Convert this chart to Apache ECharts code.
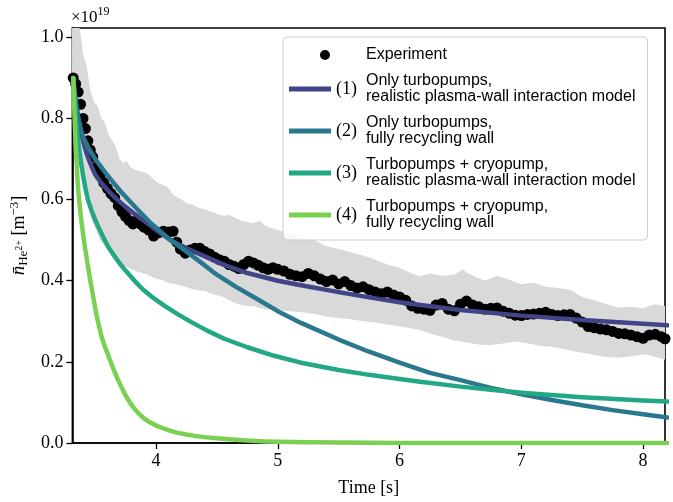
<!DOCTYPE html>
<html><head><meta charset="utf-8">
<script src="https://cdn.jsdelivr.net/npm/echarts@6/dist/echarts.min.js"></script>
<style>html,body{margin:0;padding:0;background:#fff}#c{width:673px;height:502px}</style>
</head><body><div id="c"></div>
<script>
// ---- tick labels ----
const xTicks = [4, 5, 6, 7, 8];
const yTicks = [0, 0.2, 0.4, 0.6, 0.8, 1.0];

// ---- experiment (units of 1e19 m^-3) ----
const expT = [3.32,3.34,3.36,3.38,3.40,3.42,3.44,3.46,3.48,3.51,3.54,3.57,3.60,3.63,3.66,3.69,3.72,3.75,3.78,3.81,3.84,3.87,3.90,3.94,3.98,4.02,4.06,4.10,4.14,4.17,4.20,4.24,4.28,4.32,4.36,4.40,4.44,4.48,4.52,4.56,4.60,4.64,4.68,4.72,4.76,4.80,4.84,4.88,4.92,4.96,5.00,5.05,5.10,5.15,5.20,5.25,5.30,5.35,5.40,5.45,5.50,5.55,5.60,5.65,5.70,5.75,5.80,5.85,5.90,5.95,6.00,6.05,6.10,6.15,6.20,6.25,6.30,6.35,6.40,6.45,6.50,6.55,6.60,6.65,6.70,6.75,6.80,6.85,6.90,6.95,7.00,7.05,7.10,7.15,7.20,7.25,7.30,7.35,7.40,7.45,7.50,7.55,7.60,7.65,7.70,7.75,7.80,7.85,7.90,7.95,8.00,8.05,8.10,8.15,8.18];
const expV = [0.900,0.885,0.865,0.835,0.800,0.775,0.745,0.722,0.705,0.680,0.660,0.642,0.628,0.615,0.605,0.585,0.570,0.558,0.548,0.540,0.548,0.540,0.532,0.525,0.510,0.518,0.522,0.520,0.522,0.495,0.478,0.468,0.476,0.480,0.480,0.472,0.466,0.458,0.452,0.448,0.440,0.436,0.430,0.440,0.448,0.444,0.438,0.432,0.428,0.432,0.428,0.424,0.416,0.412,0.410,0.418,0.412,0.404,0.398,0.402,0.392,0.398,0.388,0.382,0.385,0.378,0.372,0.368,0.372,0.365,0.360,0.352,0.338,0.332,0.330,0.327,0.340,0.344,0.330,0.326,0.342,0.350,0.340,0.336,0.330,0.332,0.333,0.325,0.320,0.315,0.314,0.317,0.318,0.320,0.322,0.317,0.314,0.316,0.317,0.308,0.298,0.287,0.284,0.281,0.279,0.275,0.270,0.269,0.266,0.262,0.258,0.266,0.268,0.262,0.257];

// ---- uncertainty band ----
const bandUpT = [3.31,3.36,3.38,3.40,3.43,3.46,3.49,3.52,3.55,3.58,3.61,3.64,3.67,3.70,3.73,3.76,3.79,3.82,3.86,3.90,3.94,3.98,4.02,4.06,4.10,4.14,4.18,4.22,4.26,4.30,4.35,4.40,4.45,4.50,4.55,4.60,4.65,4.70,4.75,4.80,4.85,4.90,4.95,5.00,5.10,5.20,5.30,5.40,5.50,5.60,5.70,5.80,5.90,6.00,6.10,6.17,6.25,6.35,6.45,6.52,6.55,6.62,6.70,6.74,6.80,6.88,6.95,7.00,7.10,7.20,7.30,7.40,7.50,7.60,7.70,7.80,7.90,8.00,8.05,8.10,8.18];
const bandUpV = [1.10,1.04,1.01,0.96,0.93,0.87,0.84,0.83,0.80,0.79,0.76,0.745,0.73,0.70,0.69,0.695,0.68,0.675,0.67,0.668,0.662,0.650,0.640,0.636,0.630,0.612,0.605,0.598,0.590,0.588,0.580,0.576,0.570,0.565,0.560,0.562,0.555,0.548,0.545,0.542,0.548,0.535,0.530,0.525,0.515,0.505,0.500,0.485,0.478,0.470,0.462,0.452,0.440,0.432,0.418,0.411,0.418,0.412,0.415,0.428,0.420,0.410,0.400,0.405,0.412,0.405,0.396,0.392,0.395,0.385,0.382,0.378,0.360,0.352,0.342,0.334,0.336,0.332,0.338,0.342,0.338];
const bandLoT = [3.31,3.35,3.38,3.41,3.44,3.47,3.50,3.54,3.58,3.62,3.66,3.70,3.75,3.80,3.85,3.90,3.95,4.00,4.05,4.10,4.15,4.20,4.25,4.30,4.35,4.40,4.45,4.50,4.55,4.60,4.65,4.70,4.75,4.80,4.85,4.90,5.00,5.10,5.20,5.30,5.40,5.50,5.60,5.70,5.80,5.90,6.00,6.10,6.17,6.25,6.35,6.44,6.55,6.65,6.74,6.85,6.95,7.05,7.15,7.25,7.35,7.45,7.53,7.62,7.70,7.80,7.90,8.00,8.05,8.12,8.18];
const bandLoV = [0.86,0.75,0.68,0.63,0.59,0.55,0.53,0.50,0.485,0.47,0.455,0.445,0.435,0.428,0.422,0.418,0.412,0.405,0.402,0.395,0.392,0.388,0.384,0.379,0.376,0.375,0.368,0.365,0.360,0.352,0.345,0.340,0.337,0.338,0.333,0.330,0.328,0.325,0.322,0.318,0.312,0.308,0.305,0.300,0.297,0.292,0.288,0.282,0.278,0.270,0.262,0.253,0.248,0.243,0.241,0.245,0.250,0.246,0.240,0.237,0.232,0.225,0.221,0.216,0.212,0.210,0.214,0.218,0.217,0.210,0.205];

// ---- model curves ----
const c1T = [3.32,3.325,3.33,3.337,3.345,3.36,3.38,3.40,3.42,3.44,3.47,3.50,3.55,3.60,3.67,3.75,3.84,3.93,4.02,4.12,4.25,4.40,4.57,4.75,5.00,5.19,5.50,5.75,6.00,6.17,6.50,7.00,7.50,8.00,8.20];
const c1V = [0.90,0.88,0.86,0.845,0.83,0.80,0.77,0.745,0.724,0.705,0.682,0.662,0.641,0.624,0.603,0.582,0.561,0.541,0.521,0.50,0.480,0.46,0.438,0.419,0.40,0.389,0.372,0.359,0.347,0.340,0.328,0.314,0.303,0.294,0.290];
const c2T = [3.32,3.33,3.345,3.36,3.38,3.40,3.45,3.50,3.55,3.60,3.655,3.71,3.78,3.85,3.96,4.10,4.23,4.36,4.48,4.65,4.83,5.00,5.19,5.50,5.75,6.00,6.17,6.25,6.50,6.75,7.00,7.25,7.50,7.75,8.00,8.20];
const c2V = [0.90,0.87,0.835,0.805,0.775,0.755,0.725,0.70,0.68,0.66,0.64,0.62,0.597,0.575,0.541,0.505,0.476,0.447,0.419,0.386,0.355,0.325,0.296,0.255,0.225,0.198,0.181,0.173,0.155,0.136,0.120,0.106,0.093,0.081,0.071,0.063];
const c3T = [3.32,3.325,3.33,3.337,3.345,3.357,3.37,3.385,3.40,3.42,3.44,3.47,3.50,3.535,3.57,3.61,3.66,3.70,3.75,3.82,3.89,3.98,4.07,4.18,4.29,4.42,4.56,4.75,4.97,5.19,5.50,5.75,6.00,6.17,6.50,6.75,7.00,7.50,8.00,8.20];
const c3V = [0.90,0.875,0.85,0.82,0.79,0.755,0.72,0.69,0.66,0.628,0.60,0.573,0.55,0.527,0.505,0.482,0.46,0.443,0.425,0.401,0.379,0.357,0.338,0.317,0.298,0.277,0.257,0.236,0.215,0.198,0.180,0.168,0.158,0.151,0.139,0.131,0.124,0.113,0.105,0.102];
const c4T = [3.32,3.325,3.33,3.335,3.34,3.348,3.355,3.362,3.37,3.38,3.39,3.405,3.42,3.44,3.46,3.48,3.50,3.52,3.55,3.58,3.60,3.63,3.66,3.70,3.75,3.80,3.85,3.90,3.95,4.00,4.06,4.12,4.18,4.25,4.32,4.40,4.50,4.60,4.75,4.90,5.00,5.25,5.50,6.00,7.00,8.20];
const c4V = [0.90,0.855,0.81,0.77,0.73,0.69,0.65,0.62,0.595,0.565,0.54,0.505,0.475,0.437,0.40,0.367,0.333,0.303,0.265,0.237,0.222,0.198,0.175,0.147,0.117,0.093,0.075,0.061,0.051,0.043,0.036,0.030,0.025,0.021,0.0175,0.0145,0.0115,0.009,0.006,0.004,0.003,0.0018,0.001,0.0003,0,0];

// ---- legend texts / colors ----
const curveNum = ['(1)', '(2)', '(3)', '(4)'];
const curveL1 = ['Only turbopumps,', 'Only turbopumps,', 'Turbopumps + cryopump,', 'Turbopumps + cryopump,'];
const curveL2 = ['realistic plasma-wall interaction model', 'fully recycling wall', 'realistic plasma-wall interaction model', 'fully recycling wall'];
const curveColors = ['#414487', '#2a788e', '#22a884', '#7ad151'];
const curveT = [c1T, c2T, c3T, c4T];
const curveV = [c1V, c2V, c3V, c4V];

const SERIF = 'Liberation Serif';
const SANS = 'Liberation Sans';
const zip = (a, b) => a.map((t, i) => [t, b[i]]);
const curveNames = curveNum.map((n, i) => n + ' ' + curveL1[i] + ' ' + curveL2[i]);

const chart = echarts.init(document.getElementById('c'), null, {renderer: 'canvas'});

const series = [];
series.push({
  type: 'custom', name: 'band', silent: true, clip: true, z: 1,
  data: [[bandUpT[0], bandUpV[0]]],
  renderItem: function (params, api) {
    const pts = [];
    for (let i = 0; i < bandUpT.length; i++) pts.push(api.coord([bandUpT[i], bandUpV[i]]));
    for (let i = bandLoT.length - 1; i >= 0; i--) pts.push(api.coord([bandLoT[i], bandLoV[i]]));
    return {type: 'polygon', shape: {points: pts}, style: {fill: '#d9d9d9'}};
  }
});
series.push({
  type: 'scatter', name: 'Experiment', z: 2,
  data: zip(expT, expV), symbol: 'circle', symbolSize: 11,
  itemStyle: {color: '#000', opacity: 1}
});
curveNames.forEach((nm, i) => {
  series.push({
    type: 'line', name: nm, z: 3 + i,
    data: zip(curveT[i], curveV[i]),
    showSymbol: false, symbol: 'none', smooth: false,
    lineStyle: {color: curveColors[i], width: 4.5, cap: 'round', join: 'round'},
    itemStyle: {color: curveColors[i]}
  });
});

const legendData = [{name: 'Experiment', icon: 'path://M0,5L0.01,5L0.01,5.01ZM30,5A5,5,0,1,1,40,5A5,5,0,1,1,30,5Z', itemStyle: {color: '#000', opacity: 1}}]
  .concat(curveNames.map((nm, i) => ({name: nm, icon: 'path://M0,0H42V5H0Z', itemStyle: {color: curveColors[i]}})));

const option = {
  animation: false,
  backgroundColor: '#fff',
  grid: {left: 71, right: 8, top: 28, bottom: 53, show: true, borderColor: '#000', borderWidth: 1.6, backgroundColor: 'transparent'},
  xAxis: {
    type: 'value', min: 3.313, max: 8.18,
    name: 'Time [s]', nameLocation: 'middle', nameGap: 36,
    nameTextStyle: {fontFamily: SERIF, fontSize: 18, color: '#000'},
    axisLine: {show: true, onZero: false, lineStyle: {color: '#000', width: 1.6}},
    axisTick: {show: true, customValues: xTicks, length: 6, lineStyle: {color: '#000', width: 1.3}},
    axisLabel: {customValues: xTicks, fontFamily: SERIF, fontSize: 18, color: '#000', margin: 9, formatter: v => String(v)},
    splitLine: {show: false}
  },
  yAxis: {
    type: 'value', min: 0, max: 1.023,
    name: '{n|n\u0304}{sub|He}{sup2|2+}{t| [m}{sup|\u22123}{t|]}',
    nameLocation: 'middle', nameGap: 42,
    nameTextStyle: {color: '#000', rich: {
      n: {fontFamily: SERIF, fontStyle: 'italic', fontSize: 19, lineHeight: 22},
      sub: {fontFamily: SERIF, fontSize: 13, lineHeight: 13, verticalAlign: 'bottom'},
      sup2: {fontFamily: SERIF, fontSize: 10, lineHeight: 10, verticalAlign: 'middle'},
      t: {fontFamily: SERIF, fontSize: 18, lineHeight: 22},
      sup: {fontFamily: SERIF, fontSize: 13, lineHeight: 13, verticalAlign: 'top'}
    }},
    axisLine: {show: true, onZero: false, lineStyle: {color: '#000', width: 1.6}},
    axisTick: {show: true, customValues: yTicks, length: 6, lineStyle: {color: '#000', width: 1.3}},
    axisLabel: {customValues: yTicks, fontFamily: SERIF, fontSize: 18, color: '#000', margin: 9, formatter: v => v.toFixed(1)},
    splitLine: {show: false}
  },
  legend: {
    left: 283, top: 37, orient: 'vertical',
    padding: [10, 12, 9, 6], itemGap: 10, itemWidth: 42, itemHeight: 10,
    backgroundColor: 'rgba(255,255,255,0.8)', borderColor: '#cccccc', borderWidth: 1, borderRadius: 4,
    selectedMode: false, z: 10,
    data: legendData,
    formatter: function (name) {
      if (name === 'Experiment') return '{pe| }{e|Experiment}';
      const i = curveNames.indexOf(name);
      return '{n|' + curveNum[i] + '}{a|' + curveL1[i] + '}\n{p| }{a|' + curveL2[i] + '}';
    },
    textStyle: {color: '#000', fontFamily: SANS, fontSize: 16, rich: {
      n: {fontFamily: SERIF, fontSize: 18, width: 30, lineHeight: 16, verticalAlign: 'top', padding: [7, 0, 0, 0]},
      a: {fontFamily: SANS, fontSize: 16, lineHeight: 16},
      p: {fontFamily: SANS, fontSize: 16, width: 30, lineHeight: 16},
      e: {fontFamily: SANS, fontSize: 16, lineHeight: 12},
      pe: {fontFamily: SANS, fontSize: 16, width: 30, lineHeight: 12}
    }}
  },
  graphic: [{
    type: 'text', left: 71, top: 6, z: 100,
    style: {
      text: '{a|\u00d710}{b|19}',
      rich: {
        a: {fontFamily: SERIF, fontSize: 17, lineHeight: 20, verticalAlign: 'bottom'},
        b: {fontFamily: SERIF, fontSize: 12, lineHeight: 12, verticalAlign: 'top'}
      }
    }
  }],
  series: series
};
chart.setOption(option);
</script>
</body></html>
